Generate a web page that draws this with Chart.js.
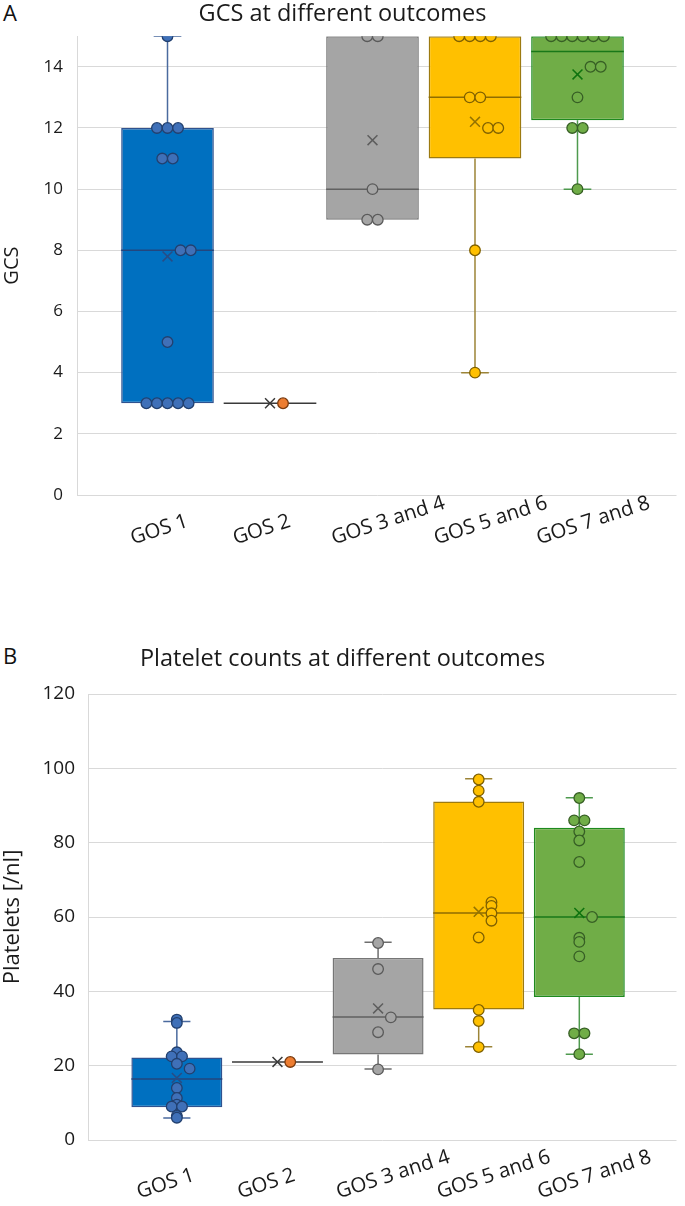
<!DOCTYPE html>
<html>
<head>
<meta charset="utf-8">
<script src="https://cdn.jsdelivr.net/npm/chart.js@4.4.0/dist/chart.umd.min.js"></script>
<style>
  html, body { margin: 0; padding: 0; background: #fff; }
  body { width: 685px; height: 1206px; position: relative; overflow: hidden; }
  canvas { position: absolute; left: 0; }
  #cA { top: 0; }
  #cB { top: 630px; }
  .pl { position: absolute; left: 3px; font-family: "Open Sans", sans-serif; font-size: 22px; color: #111; line-height: 1; }
  #lA { top: 1px; }
  #lB { top: 644px; }
</style>
</head>
<body>
<div class="pl" id="lA">A</div>
<div class="pl" id="lB">B</div>
<canvas id="cA" width="685" height="570"></canvas>
<canvas id="cB" width="685" height="576"></canvas>
<script>
// ---------------- data ----------------
const categories = ['GOS 1', 'GOS 2', 'GOS 3 and 4', 'GOS 5 and 6', 'GOS 7 and 8'];

// Panel A - GCS
const gcsGos1 = [15, 12, 12, 12, 11, 11, 8, 8, 5, 3, 3, 3, 3, 3];
const gcsGos2 = [3];
const gcsGos34 = [15, 15, 10, 9, 9];
const gcsGos56 = [15, 15, 15, 15, 13, 13, 12, 12, 8, 4];
const gcsGos78 = [15, 15, 15, 15, 15, 15, 14, 14, 13, 12, 12, 10];
const gcsQ1 = [3, 3, 9, 11, 12.25];
const gcsMedian = [8, 3, 10, 13, 14.5];
const gcsQ3 = [12, 3, 15, 15, 15];
const gcsMean = [7.8, 3, 11.6, 12.2, 13.75];
const gcsWhiskerLow = [3, 3, 9, 4, 10];
const gcsWhiskerHigh = [15, 3, 15, 15, 15];
const gcsTicks = [0, 2, 4, 6, 8, 10, 12, 14];
const gcsAxisMax = 15;

// Panel B - platelets
const pltGos1 = [32.4, 31.5, 23.6, 22.5, 22.5, 20.5, 19.2, 14, 11.3, 9.5, 9, 9, 6.5, 6];
const pltGos2 = [21];
const pltGos34 = [53, 46, 33, 29, 19];
const pltGos56 = [97, 94, 91, 64, 63, 61, 59, 54.5, 35, 32, 25];
const pltGos78 = [92, 86, 86, 83, 80.6, 74.8, 60, 54.4, 53.3, 49.4, 28.7, 28.7, 23.1];
const pltQ1 = [8.8, 21, 23, 35.1, 38.5];
const pltMedian = [16.4, 21, 33.1, 61.1, 60];
const pltQ3 = [22.2, 21, 49, 91.1, 84];
const pltMean = [16.7, 21, 35.4, 61.4, 61.1];
const pltWhiskerLow = [5.9, 21, 19.1, 25.1, 23.1];
const pltWhiskerHigh = [31.9, 21, 53.2, 97.2, 92.1];
const pltTicks = [0, 20, 40, 60, 80, 100, 120];
const pltAxisMax = 120;

// ---------------- styles ----------------
const FONT = '"Open Sans", sans-serif';
const boxFill = ['#0070C0', '#ED7D31', '#A5A5A5', '#FFC000', '#70AD47'];
const boxEdge = ['#2F528F', 'rgba(0,0,0,0)', '#767676', '#9C7A10', '#1E8A1E'];
const pointFill = ['#3F70B8', '#ED7D31', '#A5A5A5', '#FFC000', '#70AD47'];
const pointEdge = ['#22406F', '#7A3A0E', '#5A5A5A', '#7F6000', '#375F25'];
const whiskerColor = ['#4A6A9E', '#404040', '#6E6E6E', '#9C8437', '#4E9A4E'];
const medianColor = ['#23467E', '#3A3A3A', '#616161', '#8F6D00', '#187818'];
const meanColor = ['#284C85', '#3A3A3A', '#5E5E5E', '#947300', '#0E730E'];

const X_MIN = -0.883, X_MAX = 4.966;
const BOX_HALF = 0.452, CAP_HALF = 0.135;
const LABEL_ROT = 18;

const measureCtx = document.createElement('canvas').getContext('2d');
function textWidth(t, size) { measureCtx.font = size + 'px ' + FONT; return measureCtx.measureText(t).width; }

function spreadOffsets(values, mean, yRange) {
  const near = 0.0221 * yRange;
  const counts = {}, seen = {};
  values.forEach(v => { counts[v] = (counts[v] || 0) + 1; });
  return values.map(v => {
    seen[v] = seen[v] === undefined ? 0 : seen[v] + 1;
    const k = seen[v], n = counts[v];
    if (Math.abs(v - mean) < near) return 0.127 + 0.1 * k;
    return (k - (n - 1) / 2) * 0.103;
  });
}

function buildPanel(canvasId, p) {
  const canvas = document.getElementById(canvasId);
  const ds = [];
  p.points.forEach((vals, i) => {
    const offs = spreadOffsets(vals, p.mean[i], p.yMax);
    ds.push({
      type: 'scatter', order: 0, xAxisID: 'x', yAxisID: 'y',
      data: vals.map((v, k) => ({ x: i + offs[k], y: v })),
      backgroundColor: pointFill[i], borderColor: pointEdge[i],
      borderWidth: 1.3, pointRadius: 5.3, pointHoverRadius: 5.3
    });
  });
  ds.push({
    type: 'scatter', order: 1, xAxisID: 'x', yAxisID: 'y',
    data: p.mean.map((m, i) => ({ x: i, y: m })),
    pointStyle: 'crossRot', pointRadius: 7, pointHoverRadius: 7,
    borderWidth: 1.5, borderColor: meanColor, backgroundColor: 'rgba(0,0,0,0)'
  });
  categories.forEach((c, i) => {
    ds.push({
      type: 'line', order: 2, xAxisID: 'x', yAxisID: 'y',
      data: [{ x: i - BOX_HALF, y: p.med[i] }, { x: i + BOX_HALF, y: p.med[i] }],
      borderColor: medianColor[i], borderWidth: 1.5, pointRadius: 0, fill: false, tension: 0
    });
    const seg = [];
    if (p.hi[i] > p.q3[i]) {
      seg.push({ x: i, y: p.q3[i] }, { x: i, y: p.hi[i] }, { x: i, y: null },
               { x: i - CAP_HALF, y: p.hi[i] }, { x: i + CAP_HALF, y: p.hi[i] }, { x: i, y: null });
    }
    if (p.lo[i] < p.q1[i]) {
      seg.push({ x: i, y: p.q1[i] }, { x: i, y: p.lo[i] }, { x: i, y: null },
               { x: i - CAP_HALF, y: p.lo[i] }, { x: i + CAP_HALF, y: p.lo[i] });
    }
    if (seg.length) {
      ds.push({
        type: 'line', order: 3, xAxisID: 'x', yAxisID: 'y', data: seg,
        borderColor: whiskerColor[i], borderWidth: 1.5, pointRadius: 0, fill: false,
        tension: 0, spanGaps: false
      });
    }
  });
  ds.push({
    type: 'bar', order: 4, xAxisID: 'x', yAxisID: 'y',
    data: p.q1.map((a, i) => ({ x: i, y: [a, p.q3[i]] })),
    backgroundColor: boxFill, borderColor: boxEdge, borderWidth: 1.5,
    borderSkipped: false, barPercentage: 2 * BOX_HALF, categoryPercentage: 1, grouped: false
  });

  // rotated category labels: horizontal placement through the tick value,
  // vertical placement (bottom-aligned, like the original) through a per-label line height
  const pxu = (canvas.width - p.leftWidth) / (X_MAX - X_MIN);
  const rad = LABEL_ROT * Math.PI / 180, sn = Math.sin(rad), cs = Math.cos(rad);
  const glyph = 0.72 * p.labelSize;
  const widths = categories.map(c => textWidth(c, p.labelSize));
  const wMin = Math.min(...widths);
  const labelOffsets = widths.map(w => (p.labelShift + p.labelSlope * (w - wMin) + w * cs / 2) / pxu);
  const lineHeights = widths.map(w => Math.max(1, 2 * (p.labelBottom - glyph * cs / 2 - w * sn) / cs));

  return new Chart(canvas, {
    type: 'scatter',
    data: { datasets: ds },
    options: {
      responsive: false, animation: false, devicePixelRatio: 1,
      layout: { padding: 0 },
      plugins: {
        legend: { display: false }, tooltip: { enabled: false },
        title: {
          display: true, text: p.title, color: '#1a1a1a',
          font: { family: FONT, size: p.titleSize, weight: 'normal' },
          padding: p.titlePad
        }
      },
      scales: {
        x: {
          type: 'linear', min: X_MIN, max: X_MAX, offset: false,
          grid: { display: false, drawTicks: false }, border: { display: false },
          ticks: { display: false },
          afterBuildTicks: s => { s.ticks = categories.map((c, i) => ({ value: i })); },
          afterFit: s => { s.height = 0; }
        },
        xl: {
          type: 'linear', position: 'bottom', min: X_MIN, max: X_MAX, offset: false,
          grid: { display: false, drawTicks: false }, border: { display: false },
          ticks: {
            autoSkip: false, minRotation: LABEL_ROT, maxRotation: LABEL_ROT, padding: 0,
            color: '#1a1a1a',
            font: ctx => ({ family: FONT, size: p.labelSize, lineHeight: lineHeights[ctx.index] + 'px' }),
            callback: (v, idx) => categories[idx]
          },
          afterBuildTicks: s => { s.ticks = categories.map((c, i) => ({ value: i + labelOffsets[i] })); },
          afterFit: s => { s.height = p.xHeight; }
        },
        y: {
          min: 0, max: p.yMax,
          grid: { color: '#D9D9D9', lineWidth: 1, drawTicks: false },
          border: { display: true, color: '#D9D9D9', width: 1 },
          ticks: { padding: p.yPad, color: '#1a1a1a', font: { family: FONT, size: p.tickSize } },
          title: { display: true, text: p.yTitle, color: '#1a1a1a', font: { family: FONT, size: p.yTitleSize }, padding: 0 },
          afterBuildTicks: s => { s.ticks = p.yTicks.map(v => ({ value: v })); },
          afterFit: s => { s.width = p.leftWidth; }
        }
      }
    }
  });
}

buildPanel('cA', {
  title: 'GCS at different outcomes', yTitle: 'GCS', yMax: gcsAxisMax, yTicks: gcsTicks,
  points: [gcsGos1, gcsGos2, gcsGos34, gcsGos56, gcsGos78],
  q1: gcsQ1, med: gcsMedian, q3: gcsQ3, mean: gcsMean, lo: gcsWhiskerLow, hi: gcsWhiskerHigh,
  leftWidth: 77, xHeight: 75, labelSize: 20.5, labelShift: -8, labelSlope: 0.42, labelBottom: 51,
  tickSize: 17, yPad: 14, titleSize: 23.5, yTitleSize: 20, titlePad: { top: 0, bottom: 8 }
});
buildPanel('cB', {
  title: 'Platelet counts at different outcomes', yTitle: 'Platelets [/nl]', yMax: pltAxisMax, yTicks: pltTicks,
  points: [pltGos1, pltGos2, pltGos34, pltGos56, pltGos78],
  q1: pltQ1, med: pltMedian, q3: pltQ3, mean: pltMean, lo: pltWhiskerLow, hi: pltWhiskerHigh,
  leftWidth: 88, xHeight: 66, labelSize: 20.5, labelShift: -11, labelSlope: 0.46, labelBottom: 60,
  tickSize: 19, yPad: 13, titleSize: 23.5, yTitleSize: 22, titlePad: { top: 15, bottom: 20.8 }
});
</script>
</body>
</html>
